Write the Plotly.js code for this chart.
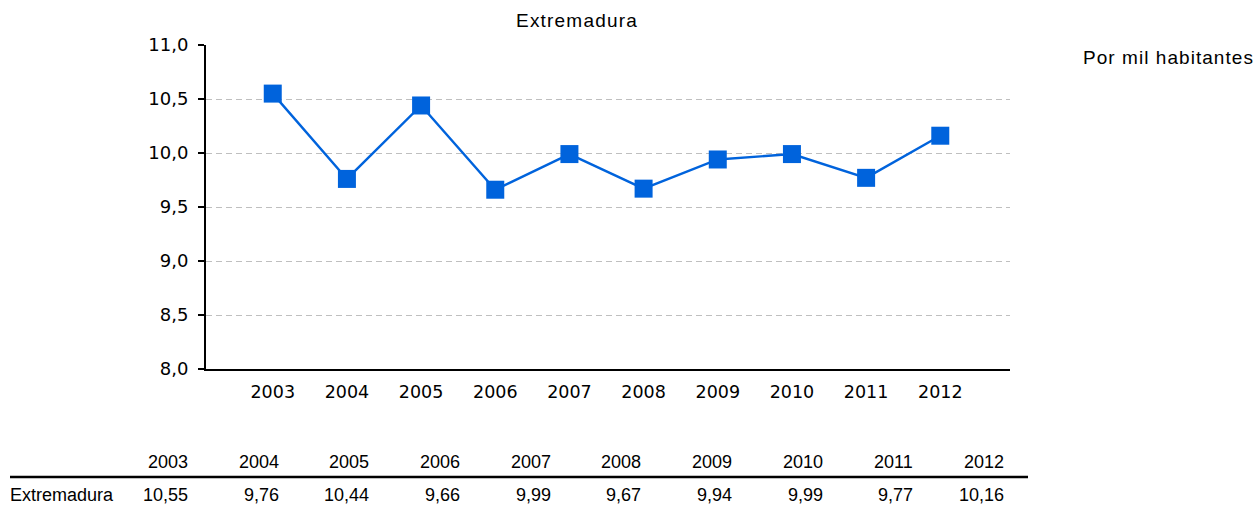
<!DOCTYPE html>
<html>
<head>
<meta charset="utf-8">
<script src="https://cdn.plot.ly/plotly-3.0.1.min.js"></script>
<style>
  html, body { margin: 0; padding: 0; background: #fff; }
  #chart { width: 1256px; height: 512px; }
  .main-svg .gtitle { letter-spacing: 1.2px; }
</style>
</head>
<body>
<div id="chart"></div>
<script>
// ---- data ----
const years = ['2003','2004','2005','2006','2007','2008','2009','2010','2011','2012'];
const values = [10.55, 9.76, 10.44, 9.66, 9.99, 9.67, 9.94, 9.99, 9.77, 10.16];
const seriesName = 'Extremadura';
const chartTitle = 'Extremadura';
const unitLabel = 'Por mil habitantes';

// ---- layout geometry (pixels) ----
const W = 1256, H = 512;
const L = 206, R = 1010, T = 45, B = 369;
const pw = R - L, ph = B - T;
const px = x => (x - L) / pw;
const py = y => (B - y) / ph;

const fmt = v => v.toFixed(2).replace('.', ',');

const tableFont = { family: 'Liberation Sans, Arial, sans-serif', size: 18, color: '#000' };
const annotations = [];
years.forEach((yr, i) => {
  const right = 190 + i * 90.67;
  annotations.push({
    text: yr, xref: 'paper', yref: 'paper', x: px(right), y: py(462),
    xanchor: 'right', yanchor: 'middle', showarrow: false, font: tableFont
  });
  annotations.push({
    text: fmt(values[i]), xref: 'paper', yref: 'paper', x: px(right), y: py(495),
    xanchor: 'right', yanchor: 'middle', showarrow: false, font: tableFont
  });
});
annotations.push({
  text: seriesName, xref: 'paper', yref: 'paper', x: px(8), y: py(495),
  xanchor: 'left', yanchor: 'middle', showarrow: false, font: tableFont
});
annotations.push({
  text: '<span style="letter-spacing:1.05px">' + unitLabel + '</span>',
  xref: 'paper', yref: 'paper', x: px(1081), y: py(57),
  xanchor: 'left', yanchor: 'middle', showarrow: false,
  font: { family: 'Liberation Sans, Arial, sans-serif', size: 19, color: '#000' }
});

const trace = {
  type: 'scatter', mode: 'lines+markers',
  x: years, y: values, name: seriesName,
  line: { color: '#0063dc', width: 2.4 },
  marker: { symbol: 'square', size: 18, color: '#0063dc', line: { width: 0 } },
  cliponaxis: false
};

const layout = {
  width: W, height: H,
  margin: { l: L, r: W - R, t: T, b: H - B, pad: 0 },
  paper_bgcolor: '#fff', plot_bgcolor: '#fff',
  showlegend: false,
  separators: ',.',
  title: {
    text: chartTitle, xref: 'container', yref: 'container',
    x: 577 / W, y: 1 - 20 / H, xanchor: 'center', yanchor: 'middle',
    font: { family: 'Liberation Sans, Arial, sans-serif', size: 19, color: '#000' }
  },
  xaxis: {
    type: 'category', range: [-0.9, 9.94],
    showgrid: false, zeroline: false,
    showline: true, linecolor: '#000', linewidth: 2,
    ticks: '', ticklabelstandoff: 6,
    tickfont: { family: 'DejaVu Sans, sans-serif', size: 17.5, color: '#000' },
    fixedrange: true
  },
  yaxis: {
    range: [8, 11], dtick: 0.5, tick0: 8, tickformat: '.1f',
    showgrid: true, gridcolor: '#bfbfbf', gridwidth: 1, griddash: '6px,4px',
    zeroline: false,
    showline: true, linecolor: '#000', linewidth: 2,
    ticks: 'outside', ticklen: 6, tickwidth: 2, tickcolor: '#000',
    ticklabelstandoff: 6,
    tickfont: { family: 'DejaVu Sans, sans-serif', size: 18, color: '#000' },
    fixedrange: true
  },
  shapes: [{
    type: 'line', xref: 'paper', yref: 'paper',
    x0: px(10), x1: px(1028), y0: py(477), y1: py(477),
    line: { color: '#000', width: 2.5 }
  }],
  annotations: annotations
};

Plotly.newPlot('chart', [trace], layout, { staticPlot: true, displayModeBar: false });
</script>
</body>
</html>
